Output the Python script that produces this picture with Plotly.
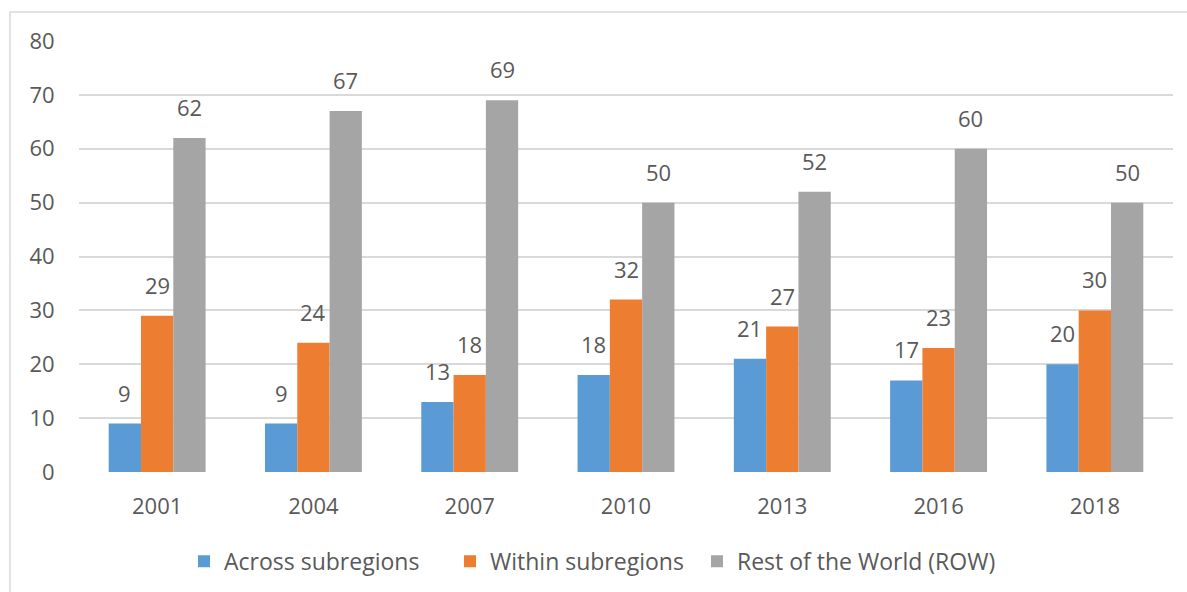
import plotly.graph_objects as go

years = ["2001", "2004", "2007", "2010", "2013", "2016", "2018"]
across = [9, 9, 13, 18, 21, 17, 20]
within = [29, 24, 18, 32, 27, 23, 30]
row = [62, 67, 69, 50, 52, 60, 50]
series_names = ["Across subregions", "Within subregions", "Rest of the World (ROW)"]
colors = ["#5B9BD5", "#ED7D31", "#A5A5A5"]

FONT = "Open Sans"
TXT = "#595959"

W, H = 1187, 592
ml, mr, mt, mb = 79, 14, 41, 120
bargap = 0.38
plot_w = W - ml - mr
legend_px = [184, 450, 697]   # left edge of each legend entry (pixels)

fig = go.Figure()
all_series = [across, within, row]
legend_ids = ["legend", "legend2", "legend3"]
for name, vals, col, lid in zip(series_names, all_series, colors, legend_ids):
    fig.add_trace(go.Bar(x=years, y=vals, name=name, marker_color=col,
                         marker_line_width=0, legend=lid))

# data labels above bars
cat_w = plot_w / len(years)
bar_w = cat_w * (1 - bargap) / 3
for si, vals in enumerate(all_series):
    off = (si - 1) * bar_w
    for i, v in enumerate(vals):
        fig.add_annotation(x=i, y=v, text=str(v), showarrow=False,
                           xshift=off, yshift=31, yanchor="middle",
                           font=dict(family=FONT, size=22, color=TXT))

# chart border
fig.add_shape(type="rect", xref="paper", yref="paper",
              x0=(10 - ml) / plot_w, x1=(W + 5 - ml) / plot_w,
              y0=-(H + 5 - (H - mb)) / (H - mt - mb),
              y1=1 + (mt - 12) / (H - mt - mb),
              line=dict(color="#D9D9D9", width=1.5), layer="below")

leg_common = dict(orientation="h", y=-0.207, yanchor="middle", xanchor="left",
                  font=dict(family=FONT, size=23, color=TXT),
                  itemsizing="constant", itemwidth=30, bgcolor="rgba(0,0,0,0)")
legends = {}
for lid, px in zip(legend_ids, legend_px):
    legends[lid] = dict(leg_common, x=(px - ml) / plot_w)

fig.update_layout(
    width=W, height=H,
    margin=dict(l=ml, r=mr, t=mt, b=mb, autoexpand=False),
    barmode="group", bargap=bargap, bargroupgap=0,
    plot_bgcolor="white", paper_bgcolor="white",
    font=dict(family=FONT, size=22, color=TXT),
    showlegend=True,
    **legends,
)
fig.update_xaxes(type="category", range=[-0.5, len(years) - 0.5],
                 showgrid=False, zeroline=False, showline=False,
                 ticks="outside", ticklen=15, tickcolor="rgba(0,0,0,0)",
                 tickfont=dict(family=FONT, size=22, color=TXT))
fig.update_yaxes(range=[0, 80], dtick=10, showgrid=True, gridcolor="#D9D9D9",
                 gridwidth=1.5, zeroline=False, showline=False,
                 ticks="outside", ticklen=19, tickcolor="rgba(0,0,0,0)",
                 tickfont=dict(family=FONT, size=22, color=TXT))

fig.write_html("out.html")
